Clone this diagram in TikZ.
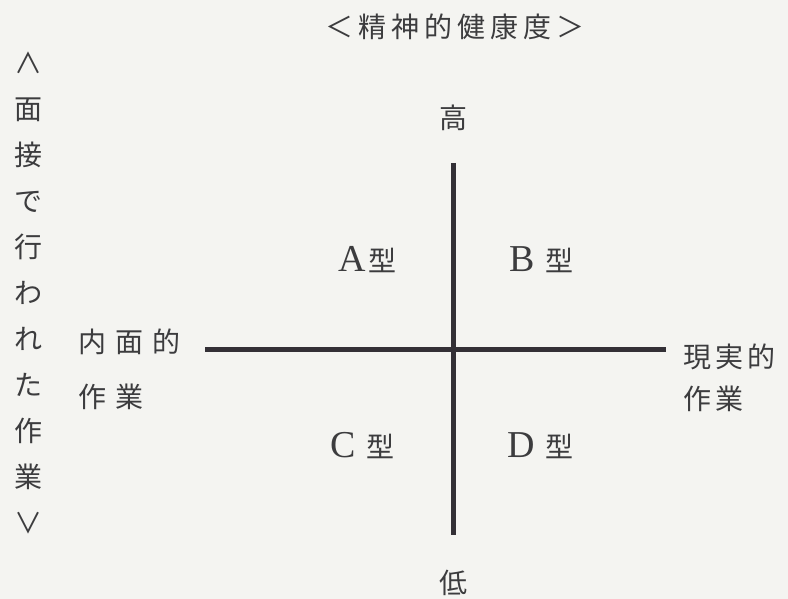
\documentclass[tikz,border=0pt]{standalone}
\usepackage{fontspec}
\setmainfont{Liberation Serif}
\newfontfamily\jp{Noto Sans CJK JP}
\newfontfamily\lat{Liberation Serif}
\definecolor{bg}{HTML}{F4F4F1}
\definecolor{ink}{HTML}{3C3C3E}
\definecolor{rulec}{HTML}{333036}
\newcommand\ltr[1]{{\lat\fontsize{38}{38}\selectfont #1}}
\begin{document}
\begin{tikzpicture}[x=1pt,y=-1pt,
  lbl/.style={text=ink, inner sep=0pt, font=\jp\fontsize{28}{28}\selectfont},
  col/.style={text=ink, inner sep=0pt, align=center, font=\jp\fontsize{28}{46}\selectfont},
  axisline/.style={draw=rulec, line width=5pt}]
\fill[bg] (0,0) rectangle (788,599);
\useasboundingbox (0,0) rectangle (788,599);
% axes
\coordinate (top) at (453,163);
\coordinate (bot) at (453,535);
\coordinate (lft) at (205,349);
\coordinate (rgt) at (666,349);
\draw[axisline] (top) -- (bot);
\draw[axisline] (lft) -- (rgt);
% title
\node[lbl] (title) at (455,27) {＜\kern5pt精\kern5pt神\kern5pt的\kern5pt健\kern5pt康\kern5pt度\kern5pt＞};
\node[lbl] (high) at (453,118) {高};
\node[lbl] (low) at (453,583) {低};
% left column
\node[col] (leftcol) at (29,293) {∧\\面\\接\\で\\行\\わ\\れ\\た\\作\\業\\∨};
% axis end labels
\node[lbl, anchor=west] (inner1) at (78,342) {内\kern9pt面\kern9pt的};
\node[lbl, anchor=west] (inner2) at (78,397) {作\kern9pt業};
\node[lbl, anchor=west] (real1) at (683,357) {現\kern4pt実\kern4pt的};
\node[lbl, anchor=west] (real2) at (683,399) {作\kern4pt業};
% quadrant labels
\node[lbl, anchor=base east] (A) at (397,271) {\ltr{A}\kern3pt型};
\node[lbl, anchor=base east] (B) at (574,271) {\ltr{B}\kern11pt型};
\node[lbl, anchor=base east] (C) at (395,457) {\ltr{C}\kern11pt型};
\node[lbl, anchor=base east] (D) at (574,457) {\ltr{D}\kern11pt型};
\end{tikzpicture}
\end{document}
